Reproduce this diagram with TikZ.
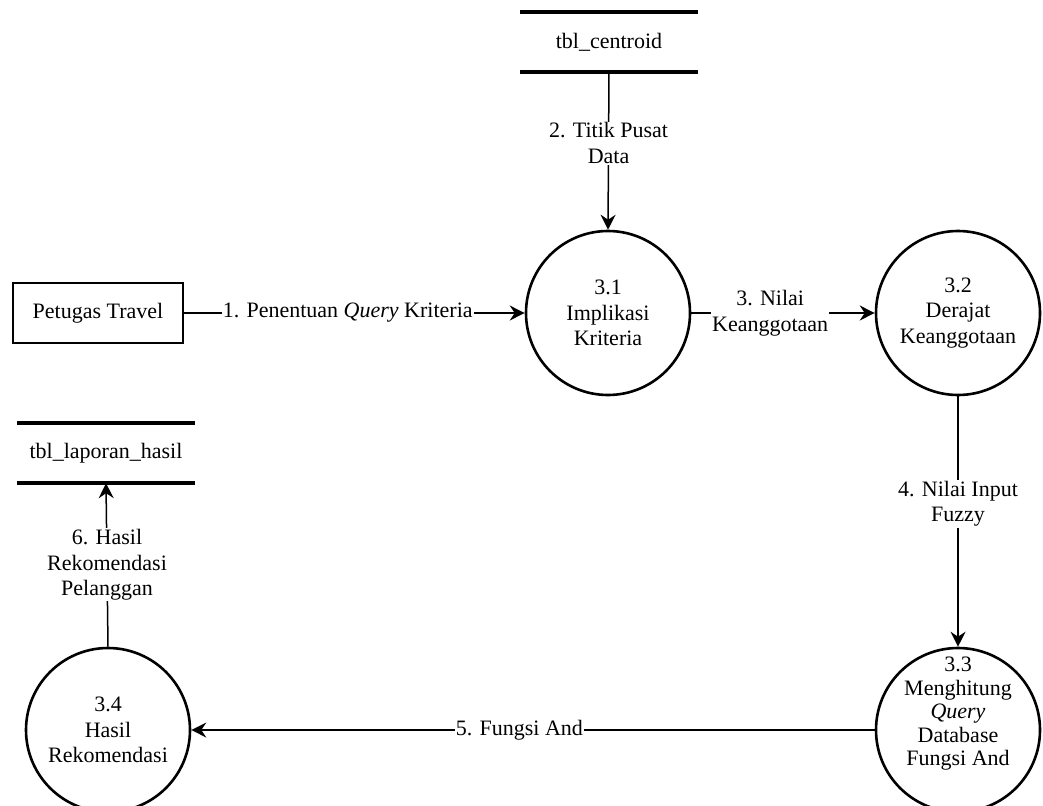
\documentclass[tikz,border=0pt]{standalone}
\usepackage{fontspec}
\setmainfont{Liberation Serif}
\usetikzlibrary{arrows.meta}
\begin{document}
\begin{tikzpicture}[x=1pt,y=-1pt,
  every node/.style={font=\fontsize{22}{25.5}\selectfont},
  proc/.style={circle,draw,line width=2.6pt,minimum size=164pt,inner sep=0pt,align=center},
  entity/.style={draw,line width=2.6pt,minimum width=170pt,minimum height=60pt,inner sep=0pt},
  store/.style={minimum width=178pt,minimum height=60pt,inner sep=0pt},
  storeline/.style={line width=3.5pt},
  flow/.style={line width=1.5pt,-{Stealth[length=15pt,width=15pt,inset=5pt]}},
  lbl/.style={fill=white,align=center,inner sep=1pt}
]
\useasboundingbox (0,0) rectangle (1043,805);
\clip (0,0) rectangle (1043,805);

% data stores
\node[store] (cent) at (609,42) {tbl\_centroid};
\draw[storeline] (cent.north west) -- (cent.north east);
\draw[storeline] (cent.south west) -- (cent.south east);

\node[store] (lap) at (106,453) {tbl\_laporan\_hasil};
\draw[storeline] (lap.north west) -- (lap.north east);
\draw[storeline] (lap.south west) -- (lap.south east);

% entity
\node[entity] (pt) at (98,313) {Petugas Travel};

% processes
\node[proc] (c31) at (608,313) {3.1\\Implikasi\\Kriteria};
\node[proc] (c32) at (958,313) {3.2\\Derajat\\Keanggotaan};
\node[proc] (c33) at (958,730) {};
\node[align=center,inner sep=0pt,font=\fontsize{22}{23.5}\selectfont] (t33) at (958,714) {3.3\\Menghitung\\\textit{Query}\\Database\\Fungsi And};
\node[proc] (c34) at (108,730) {3.4\\Hasil\\Rekomendasi};

% flows
\draw[flow] (pt.east) -- node[lbl,pos=0.48]{1. Penentuan \textit{Query} Kriteria} (c31.west);
\draw[flow] (cent.south) -- node[lbl,pos=0.45]{2. Titik Pusat\\Data} (c31.north);
\draw[flow] (c31.east) -- node[lbl,pos=0.43]{3. Nilai\\Keanggotaan} (c32.west);
\draw[flow] (c32.south) -- node[lbl,pos=0.43]{4. Nilai Input\\Fuzzy} (c33.north);
\draw[flow] (c33.west) -- node[lbl,pos=0.52]{5. Fungsi And} (c34.east);
\draw[flow] (c34.north) -- node[lbl,pos=0.5]{6. Hasil\\Rekomendasi\\Pelanggan} (lap.south);
\end{tikzpicture}
\end{document}
